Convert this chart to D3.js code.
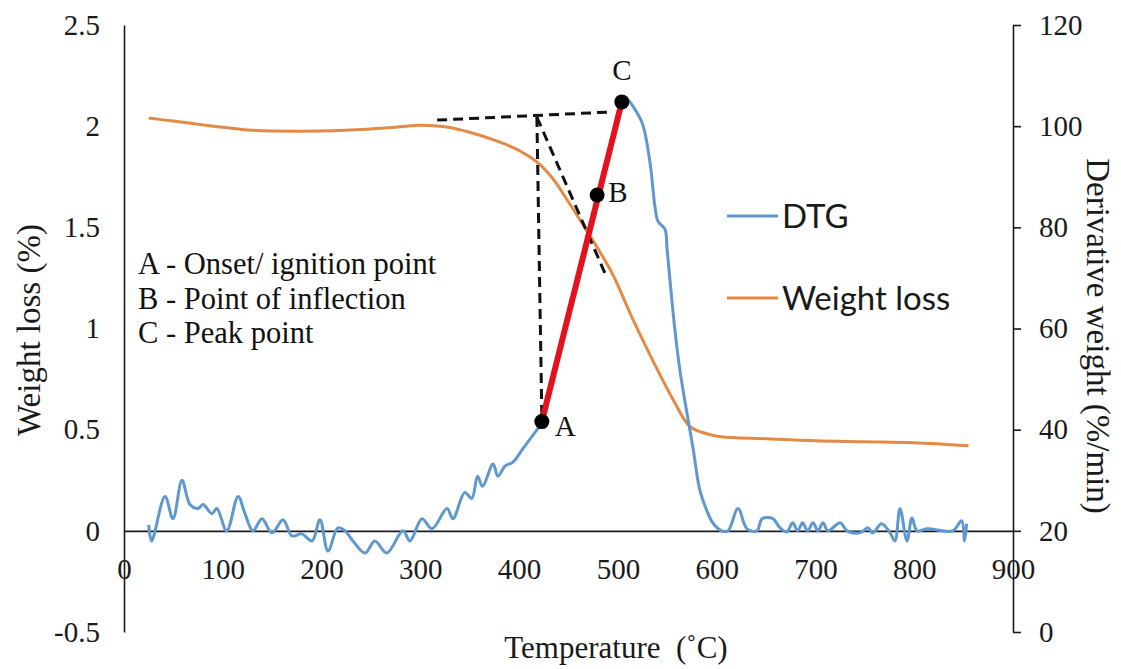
<!DOCTYPE html>
<html>
<head>
<meta charset="utf-8">
<script src="https://cdn.jsdelivr.net/npm/d3@7/dist/d3.min.js"></script>
<style>
    body { margin: 0; background: #fff; }
    .serif { font-family: 'Liberation Serif', 'Tinos', 'Times New Roman', serif; }
</style>
</head>
<body>
<div class="vis-tga"></div>
<script>
// DTG curve (read on left axis)
const dtgTemp = [25, 28, 41.5, 49.6, 58.7, 66.8, 74.9, 80, 89, 94, 104, 115.5, 122.5, 130.6, 139.7, 149.8, 161, 170, 180, 190.3,
    198.4, 206.5, 216.6, 223.7, 231.8, 244, 254, 266, 282.4, 289.5, 301.7, 311.8, 327, 333, 345, 352, 358, 363, 373.6, 378.6,
    385.7, 393.8, 403, 412, 423, 440, 460, 479, 493, 504, 510, 515, 525, 532.5, 537.6, 540.6, 547.7, 549.7, 552.7, 557.8,
    562.9, 570, 576, 583, 590, 596, 605, 611.5, 621.6, 630.7, 640.8, 646, 657, 664, 671, 677, 682, 687, 692, 697.5,
    702.6, 707.6, 712.7, 725, 732, 745, 753, 758, 767, 775.5, 780.5, 785.6, 792.7, 797.7, 802.8, 813, 839, 848, 851, 853];
const dtgValue = [0.03, -0.05, 0.17, 0.06, 0.25, 0.13, 0.11, 0.13, 0.085, 0.11, 0.0, 0.17, 0.085, 0.0, 0.06, -0.01, 0.055, -0.025, -0.015, -0.05,
    0.055, -0.1, 0.015, 0.0, -0.05, -0.11, -0.05, -0.11, 0.0, -0.05, 0.06, 0.01, 0.11, 0.06, 0.19, 0.16, 0.27, 0.22, 0.33, 0.27,
    0.32, 0.34, 0.40, 0.46, 0.54, 0.87, 1.26, 1.64, 1.91, 2.12, 2.13, 2.10, 2.01, 1.82, 1.60, 1.53, 1.49, 1.40, 1.24, 0.99,
    0.79, 0.58, 0.41, 0.20, 0.10, 0.04, 0.0, 0.0, 0.11, 0.01, 0.0, 0.06, 0.06, 0.015, -0.005, 0.04, 0.0, 0.04, 0.0, 0.04,
    0.0, 0.04, 0.0, 0.04, 0.0, -0.01, 0.015, -0.01, 0.035, -0.01, -0.05, 0.11, -0.05, 0.064, 0.0, 0.01, 0.0, 0.05, -0.05, 0.035];

// weight loss curve (read on right axis)
const wlTemp = [25, 50, 75, 100, 130, 175, 225, 275, 300, 325, 350, 380, 400, 420, 435, 450, 468, 494, 514, 535, 556,
    573, 590, 604, 650, 700, 750, 800, 855];
const wlValue = [101.6, 101.0, 100.4, 99.8, 99.2, 99.0, 99.2, 99.8, 100.2, 99.9, 98.8, 96.9, 95.2, 92.6, 89.4, 85.0, 79.5, 71.0, 62.3, 53.8, 45.9,
    40.6, 39.2, 38.6, 38.2, 37.8, 37.6, 37.4, 36.8];

const xTicks = [0, 100, 200, 300, 400, 500, 600, 700, 800, 900];
const leftTicks = [-0.5, 0, 0.5, 1, 1.5, 2, 2.5];
const rightTicks = [0, 20, 40, 60, 80, 100, 120];

// onset / inflection / peak points (temperature, left axis value)
const pointLabels = ['A', 'B', 'C'];
const pointTemp = [423, 479, 504];
const pointValue = [0.54, 1.66, 2.12];

// dashed construction lines [t1, v1, t2, v2]
const tangentLines = [
    [317, 2.03, 492, 2.07],
    [418, 2.045, 423, 0.57],
    [418, 2.045, 489, 1.25]
];

const noteLines = ['A - Onset/ ignition point', 'B - Point of inflection', 'C - Peak point'];
const legendNames = ['DTG', 'Weight loss'];

const Color = { DTG: '#5e98cf', WL: '#e38a47', RED: '#e3131c', AXIS: '#1a1a1a' };

const W = 1121, H = 669;
const svg = d3.select('.vis-tga')
    .append('svg')
    .attr('width', W)
    .attr('height', H);

// Scales
const x = d3.scaleLinear().domain([0, 900]).range([124, 1013]);
const yL = d3.scaleLinear().domain([-0.5, 2.5]).range([632, 25]);
const yR = d3.scaleLinear().domain([0, 120]).range([632, 25]);

// Axes
svg.append('g')
    .attr('class', 'axis_x')
    .attr('transform', 'translate(0,' + yL(0) + ')')
    .call(d3.axisBottom(x).tickValues(xTicks).tickSize(0).tickPadding(28).tickFormat(d => String(d)));

svg.append('g')
    .attr('class', 'axis_yl')
    .attr('transform', 'translate(' + x(0) + ',0)')
    .call(d3.axisLeft(yL).tickValues(leftTicks).tickSize(0).tickPadding(24).tickFormat(d => String(d)));

svg.append('g')
    .attr('class', 'axis_yr')
    .attr('transform', 'translate(' + x(900) + ',0)')
    .call(d3.axisRight(yR).tickValues(rightTicks).tickSizeInner(8).tickSizeOuter(0).tickPadding(18));

svg.selectAll('.axis_x, .axis_yl, .axis_yr')
    .attr('font-family', null)
    .attr('font-size', null)
    .selectAll('path, line')
    .attr('stroke', Color.AXIS)
    .attr('stroke-width', 1.6);
svg.selectAll('.axis_x, .axis_yl, .axis_yr')
    .selectAll('text')
    .attr('class', 'serif')
    .attr('fill', '#1a1a1a')
    .style('font-size', '29px');

// Axis titles
svg.append('text')
    .attr('class', 'serif')
    .attr('transform', 'translate(40,330) rotate(-90)')
    .attr('text-anchor', 'middle')
    .style('font-size', '33px')
    .attr('fill', '#1a1a1a')
    .text('Weight loss (%)');

svg.append('text')
    .attr('class', 'serif')
    .attr('transform', 'translate(1087,336) rotate(90)')
    .attr('text-anchor', 'middle')
    .style('font-size', '33px')
    .attr('fill', '#1a1a1a')
    .text('Derivative weight (%/min)');

svg.append('text')
    .attr('class', 'serif')
    .attr('x', 616)
    .attr('y', 658)
    .attr('text-anchor', 'middle')
    .style('font-size', '31px')
    .attr('fill', '#1a1a1a')
    .text('Temperature\u00a0\u00a0(\u02daC)');

// Lines
const dtgData = dtgTemp.map((t, i) => ({ t: t, v: dtgValue[i] }));
const wlData = wlTemp.map((t, i) => ({ t: t, v: wlValue[i] }));

const dtgLine = d3.line()
    .x(d => x(d.t))
    .y(d => yL(d.v))
    .curve(d3.curveCatmullRom.alpha(0.5));

const wlLine = d3.line()
    .x(d => x(d.t))
    .y(d => yR(d.v))
    .curve(d3.curveCatmullRom.alpha(0.5));

const lineLayer = svg.append('g').attr('id', 'lineLayer');

lineLayer.append('path')
    .attr('d', wlLine(wlData))
    .attr('stroke', Color.WL)
    .attr('stroke-width', 3)
    .attr('fill', 'none');

lineLayer.append('path')
    .attr('d', dtgLine(dtgData))
    .attr('stroke', Color.DTG)
    .attr('stroke-width', 3)
    .attr('stroke-linejoin', 'round')
    .attr('fill', 'none');

// Annotation: tangent construction
const noteLayer = svg.append('g').attr('id', 'noteLayer');

noteLayer.selectAll('.tangent')
    .data(tangentLines)
    .enter()
    .append('line')
    .attr('class', 'tangent')
    .attr('x1', d => x(d[0]))
    .attr('y1', d => yL(d[1]))
    .attr('x2', d => x(d[2]))
    .attr('y2', d => yL(d[3]))
    .attr('stroke', '#111')
    .attr('stroke-width', 3)
    .attr('stroke-dasharray', '10,6');

noteLayer.append('line')
    .attr('x1', x(pointTemp[0]))
    .attr('y1', yL(pointValue[0]))
    .attr('x2', x(pointTemp[2]))
    .attr('y2', yL(pointValue[2]))
    .attr('stroke', Color.RED)
    .attr('stroke-width', 6);

noteLayer.selectAll('.dot')
    .data(pointLabels)
    .enter()
    .append('circle')
    .attr('class', 'dot')
    .attr('cx', (d, i) => x(pointTemp[i]))
    .attr('cy', (d, i) => yL(pointValue[i]))
    .attr('r', 7.5)
    .attr('fill', '#000');

// letter offsets next to each dot
const labelDx = [13, 11, 0];
const labelDy = [14, 7, -22];
noteLayer.selectAll('.dotLabel')
    .data(pointLabels)
    .enter()
    .append('text')
    .attr('class', 'serif')
    .attr('x', (d, i) => x(pointTemp[i]) + labelDx[i])
    .attr('y', (d, i) => yL(pointValue[i]) + labelDy[i])
    .attr('text-anchor', (d, i) => i === 2 ? 'middle' : 'start')
    .style('font-size', '29px')
    .attr('fill', '#111')
    .text(d => d);

noteLayer.selectAll('.note')
    .data(noteLines)
    .enter()
    .append('text')
    .attr('class', 'serif')
    .attr('x', 138)
    .attr('y', (d, i) => 274 + i * 34.5)
    .style('font-size', '30.5px')
    .attr('fill', '#111')
    .text(d => d);

// Legend
const legendY = [216, 298];
const legendColor = [Color.DTG, Color.WL];
const legend = svg.append('g').attr('class', 'legend');
legend.selectAll('line')
    .data(legendNames)
    .enter()
    .append('line')
    .attr('x1', 727)
    .attr('x2', 778)
    .attr('y1', (d, i) => legendY[i])
    .attr('y2', (d, i) => legendY[i])
    .attr('stroke', (d, i) => legendColor[i])
    .attr('stroke-width', 3);
legend.selectAll('text')
    .data(legendNames)
    .enter()
    .append('text')
    .attr('x', 782)
    .attr('y', (d, i) => legendY[i] + 12)
    .style('font-family', 'Lato, "Noto Sans", sans-serif')
    .style('font-size', '33px')
    .attr('fill', '#1a1a1a')
    .text(d => d);
</script>
</body>
</html>
